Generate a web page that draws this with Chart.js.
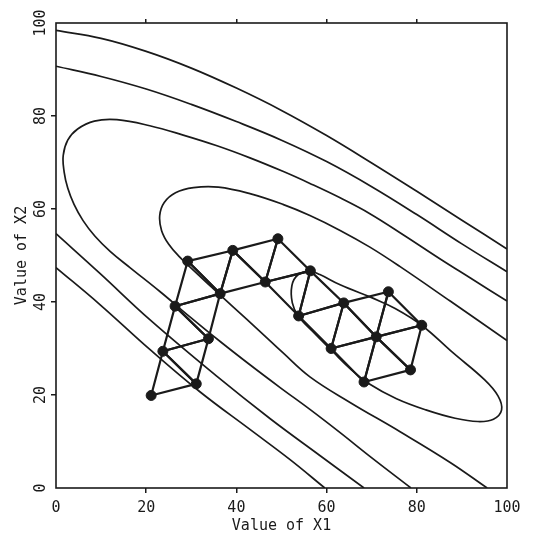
<!DOCTYPE html>
<html>
<head>
<meta charset="utf-8">
<script src="https://cdn.jsdelivr.net/npm/chart.js@4.4.1/dist/chart.umd.min.js"></script>
<style>
  body { margin: 0; background: #fff; }
</style>
</head>
<body>
<canvas id="myChart" width="541" height="539"></canvas>
<script>
// simplex vertices (numbered 1..19 in the order they were visited)
const x1Vertex = [21.1, 31.1, 23.7, 33.8, 26.4, 36.4, 29.2, 39.2, 46.4, 49.2, 56.4, 53.8, 63.8, 73.7, 61.0, 71.0, 81.1, 68.3, 78.6];
const x2Vertex = [19.9, 22.4, 29.4, 32.1, 39.1, 41.8, 48.8, 51.1, 44.3, 53.6, 46.7, 37.0, 39.8, 42.2, 30.0, 32.5, 35.0, 22.8, 25.4];
// each simplex as three vertex numbers
const simplexes = [[1,2,3],[2,3,4],[3,4,5],[4,5,6],[5,6,7],[6,7,8],[6,8,9],[8,9,10],[9,10,11],[9,11,12],
                   [11,12,13],[12,13,15],[13,15,16],[13,16,14],[14,16,17],[16,17,19],[16,19,18],[15,16,18]];

// contour lines of the response surface
const innerX = [69.6, 63.0, 58.5, 56.3, 53.6, 52.3, 52.4, 53.7, 57.4, 61.4, 65.2, 69.6, 75.5, 82.0, 88.5, 93.5, 97.0, 98.8, 98.0, 95.0, 88.0, 81.2, 75.2, 69.6];
const innerY = [41.1, 43.7, 45.9, 46.6, 45.8, 43.5, 39.8, 37.0, 33.2, 29.3, 25.7, 22.3, 19.2, 16.8, 15.0, 14.3, 14.8, 16.8, 19.8, 23.3, 29.1, 34.9, 38.6, 41.1];
const midX = [100, 87.4, 76.3, 69.6, 63.0, 56.3, 50.3, 43.0, 36.0, 30.5, 26.5, 24.0, 23.0, 23.4, 25.0, 27.5, 30.5, 34.5, 39.2, 45.2, 50.3, 56.3, 65.2, 76.3, 87.4, 95.6];
const midY = [31.7, 40.2, 47.6, 51.8, 55.4, 58.6, 61.0, 63.3, 64.7, 64.6, 63.5, 61.4, 58.6, 55.4, 52.4, 49.6, 46.8, 43.2, 39.0, 33.7, 29.1, 23.9, 18.4, 12.1, 5.5, 0];
const outerX = [100, 91.8, 85.1, 77.4, 69.6, 63.0, 56.3, 50.3, 43.0, 35.7, 28.2, 20.8, 13.5, 8.5, 4.8, 2.6, 1.6, 1.8, 2.6, 4.0, 6.0, 8.6, 12.0, 16.4, 23.1, 29.7, 36.4, 43.0, 49.7, 56.3, 63.0, 69.6, 78.7];
const outerY = [40.2, 45.2, 49.3, 54.2, 59.0, 62.4, 65.5, 68.1, 71.0, 73.6, 75.9, 77.9, 79.2, 78.9, 77.2, 74.8, 71.5, 68.0, 64.5, 61.0, 57.5, 54.2, 50.9, 47.4, 42.2, 36.8, 31.5, 26.5, 21.6, 16.9, 11.9, 6.8, 0];
const upper4X = [0, 10, 20, 30, 40, 50, 60, 70, 80, 90, 100];
const upper4Y = [90.7, 88.5, 85.8, 82.5, 78.8, 74.8, 70.2, 64.8, 58.8, 52.5, 46.5];
const lower4X = [0, 9.8, 20.8, 35.7, 47.5, 58.5, 68.3];
const lower4Y = [54.7, 46.1, 36.2, 24.0, 14.9, 7.0, 0];
const upper5X = [0, 10, 20, 30, 40, 50, 60, 70, 80, 90, 100];
const upper5Y = [98.4, 96.7, 93.9, 90.3, 86.0, 81.2, 75.8, 69.9, 63.8, 57.6, 51.4];
const lower5X = [0, 9.8, 20.8, 31.9, 43.0, 51.9, 59.6];
const lower5Y = [47.4, 39.4, 29.8, 20.7, 12.6, 6.1, 0];

const ticksAt = [0, 20, 40, 60, 80, 100];

function toPoints(xs, ys) {
	return xs.map((x, i) => ({ x: x, y: ys[i] }));
}

const ink = '#1a1a1a';
const datasets = [];

datasets.push({
	data: toPoints(x1Vertex, x2Vertex),
	showLine: false,
	pointRadius: 5,
	pointBackgroundColor: ink,
	pointBorderColor: ink,
	order: 0
});

simplexes.forEach(function (s) {
	const idx = [s[0], s[1], s[2], s[0]];
	datasets.push({
		data: idx.map(n => ({ x: x1Vertex[n - 1], y: x2Vertex[n - 1] })),
		showLine: true,
		borderColor: ink,
		borderWidth: 2.2,
		pointRadius: 0,
		tension: 0,
		order: 1
	});
});

[[innerX, innerY], [midX, midY], [outerX, outerY], [upper4X, upper4Y], [lower4X, lower4Y], [upper5X, upper5Y], [lower5X, lower5Y]].forEach(function (c) {
	datasets.push({
		data: toPoints(c[0], c[1]),
		showLine: true,
		borderColor: ink,
		borderWidth: 1.7,
		pointRadius: 0,
		tension: 0.4,
		order: 2
	});
});

const frame = {
	id: 'frame',
	afterDraw(chart) {
		const a = chart.chartArea;
		const ctx = chart.ctx;
		ctx.save();
		ctx.strokeStyle = ink;
		ctx.lineWidth = 1.6;
		ctx.strokeRect(a.left, a.top, a.right - a.left, a.bottom - a.top);
		ctx.restore();
	}
};

const axisFont = { family: 'DejaVu Sans Mono', size: 15 };
const tickColor = c => (c.tick && (c.tick.value === 0 || c.tick.value === 100)) ? 'rgba(0,0,0,0)' : ink;

const ctx = document.getElementById('myChart').getContext('2d');
const myChart = new Chart(ctx, {
	type: 'scatter',
	data: { datasets: datasets },
	plugins: [frame],
	options: {
		responsive: false,
		animation: false,
		layout: { padding: { right: 34 } },
		plugins: { legend: { display: false }, tooltip: { enabled: false } },
		scales: {
			x: {
				type: 'linear', position: 'bottom', min: 0, max: 100,
				afterBuildTicks: s => { s.ticks = ticksAt.map(v => ({ value: v })); },
				ticks: { color: ink, font: axisFont, padding: 6, maxRotation: 0 },
				grid: { drawOnChartArea: false, tickLength: 5, color: tickColor, lineWidth: 1.5 },
				border: { display: false },
				title: { display: true, text: 'Value of X1', font: axisFont, color: ink, padding: { top: 0, bottom: 4 } },
				afterFit: s => { s.height = 51; }
			},
			xTop: {
				type: 'linear', position: 'top', min: 0, max: 100,
				afterBuildTicks: s => { s.ticks = ticksAt.map(v => ({ value: v })); },
				ticks: { display: false },
				grid: { drawOnChartArea: false, tickLength: 4, color: tickColor, lineWidth: 1.5 },
				border: { display: false },
				afterFit: s => { s.height = 23; }
			},
			y: {
				type: 'linear', position: 'left', min: 0, max: 100,
				afterBuildTicks: s => { s.ticks = ticksAt.map(v => ({ value: v })); },
				ticks: { color: ink, font: axisFont, padding: -4, minRotation: 90, maxRotation: 90, crossAlign: 'center' },
				grid: { drawOnChartArea: false, tickLength: 5, color: tickColor, lineWidth: 1.5 },
				border: { display: false },
				title: { display: true, text: 'Value of X2', font: axisFont, color: ink, padding: { top: 13, bottom: 0 } },
				afterFit: s => { s.width = 56; }
			}
		}
	}
});
</script>
</body>
</html>
